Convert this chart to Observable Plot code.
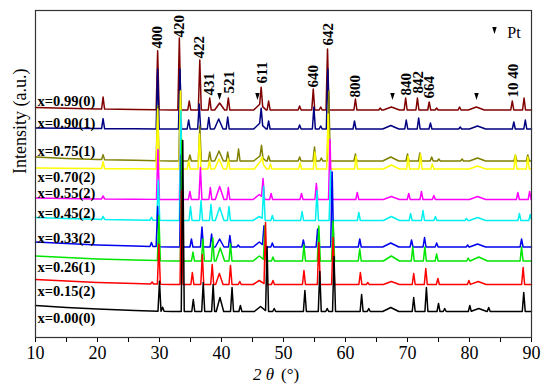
<!DOCTYPE html>
<html>
<head>
<meta charset="utf-8">
<script src="https://cdn.jsdelivr.net/npm/d3@7"></script>
<script src="https://cdn.jsdelivr.net/npm/@observablehq/plot@0.6"></script>
<style>
  html, body { margin: 0; padding: 0; background: #fff; }
  #chart { width: 550px; height: 389px; }
</style>
</head>
<body>
<div id="chart"></div>
<script>
// ---------- data ----------
const seriesLabels = ["x=0.00(0)", "x=0.15(2)", "x=0.26(1)", "x=0.33(2)", "x=0.45(2)",
                      "x=0.55(2)", "x=0.70(2)", "x=0.75(1)", "x=0.90(1)", "x=0.99(0)"];
const seriesColors = ["#000000", "#ff0000", "#00e600", "#0000ee", "#00f0f0",
                      "#ff00ff", "#ffff00", "#808000", "#000080", "#800000"];
// vertical stacking offset of each pattern (a.u.)
const seriesOffsets = [26, 53, 76.5, 90.5, 117, 138, 168.5, 176.5, 208.5, 227.5];
// background (amorphous hump at low angle): [2θ, intensity]
const bg000 = [[10, 6], [15, 4], [20, 2.5], [26, 1], [32, 0], [90, 0]];
const bg015 = [[10, 5], [15, 3.5], [20, 2], [26, 1], [32, 0], [90, 0]];
const bg026 = [[10, 5], [15, 3.5], [20, 2], [26, 1], [32, 0], [90, 0]];
const bg033 = [[10, 5], [15, 3.5], [20, 2], [26, 1], [32, 0], [90, 0]];
const bg045 = [[10, 3], [15, 2], [20, 1.2], [26, 0.5], [32, 0], [90, 0]];
const bg055 = [[10, 1.5], [15, 1], [20, 0.6], [26, 0.3], [32, 0], [90, 0]];
const bg070 = [[10, 1], [15, 0.7], [20, 0.4], [26, 0.2], [32, 0], [90, 0]];
const bg075 = [[10, 4], [15, 2.5], [20, 1.5], [26, 0.7], [32, 0], [90, 0]];
const bg090 = [[10, 1], [15, 0.7], [20, 0.4], [26, 0.2], [32, 0], [90, 0]];
const bg099 = [[10, 2.5], [15, 1.7], [20, 1], [26, 0.5], [32, 0], [90, 0]];
// reflections: [2θ, height, half-width at base (broad Pt humps only)]
const p000 = [[30.0, 30], [30.5, 4], [33.75, 171], [35.45, 12], [37.05, 29], [38.65, 27], [39.75, 14, 0.6],
  [41.7, 24], [43.05, 6], [46.3, 5, 1.0], [47.35, 65], [48.5, 3], [53.45, 21], [55.85, 40], [57.05, 3],
  [58.15, 55], [62.6, 17], [63.75, 3], [67.3, 4, 1.3], [71.0, 14], [73.05, 24], [75.0, 8], [76.0, 3],
  [80.05, 6], [81.5, 3, 1.3], [83.1, 4], [88.75, 19]];
const p015 = [[28.8, 2], [29.9, 40], [33.55, 94], [35.3, 12], [36.9, 30], [38.5, 20], [39.65, 11, 0.6],
  [41.45, 19], [42.95, 3], [46.1, 4, 1.0], [47.1, 62], [48.3, 4], [53.3, 14], [55.7, 42], [58.0, 47],
  [62.4, 12], [63.6, 2], [67.4, 3, 1.3], [71.0, 11], [72.95, 16], [74.9, 6], [79.9, 4], [81.4, 3, 1.3],
  [88.65, 17]];
const p026 = [[29.9, 45], [33.6, 121], [35.4, 9], [37.0, 22], [38.6, 23], [39.8, 13, 0.7], [41.45, 17],
  [46.1, 5, 1.0], [47.0, 35], [48.3, 4], [53.3, 16], [55.7, 35], [58.0, 40], [62.3, 12], [67.4, 5, 1.3],
  [70.85, 14], [72.8, 14], [74.7, 7], [79.8, 3], [81.5, 4, 1.4], [88.4, 14]];
const p033 = [[28.7, 4], [29.7, 40], [33.5, 92], [35.15, 8], [36.85, 20], [38.4, 13], [39.7, 8, 0.7],
  [41.35, 11.5], [42.7, 2], [46.1, 5, 1.0], [46.85, 20], [48.2, 4], [53.2, 7], [55.5, 18], [57.85, 75],
  [62.3, 8], [67.3, 4, 1.3], [70.65, 7], [72.75, 9.5], [74.7, 4], [79.7, 2], [81.3, 3, 1.3], [88.4, 8]];
const p045 = [[20.9, 3], [28.7, 3], [29.8, 40], [33.45, 110], [35.0, 14], [36.7, 20], [38.3, 16],
  [39.7, 13, 0.7], [41.2, 14], [46.1, 4, 1.0], [46.8, 33], [48.2, 5], [53.0, 9], [55.4, 30], [57.6, 50],
  [62.15, 8], [67.4, 4, 1.3], [70.5, 7], [72.5, 10], [74.5, 4], [79.5, 2], [81.3, 3, 1.3], [88.05, 7],
  [89.8, 6]];
const p055 = [[20.9, 3], [29.75, 50], [33.45, 80], [34.9, 8], [36.6, 32], [38.2, 12], [39.7, 13, 0.7],
  [41.1, 12], [46.1, 5, 1.0], [46.7, 19], [48.0, 6], [52.9, 6], [55.3, 16], [57.5, 60], [61.9, 7],
  [67.4, 3, 1.3], [70.2, 6], [72.25, 8], [74.25, 4], [81.3, 3, 1.3], [87.8, 7], [89.7, 8]];
const p070 = [[20.9, 7], [29.7, 60], [33.4, 78], [34.7, 8], [36.45, 35], [38.05, 8], [39.6, 10, 0.7],
  [41.1, 10], [46.3, 8, 1.0], [46.55, 6], [47.9, 5], [52.7, 6], [55.05, 17], [57.2, 55], [61.7, 13],
  [67.4, 4, 1.3], [70.1, 13], [72.1, 15], [74.0, 5], [81.3, 3, 1.3], [87.4, 14], [89.4, 12]];
const p075 = [[20.9, 5], [29.7, 55], [33.35, 70], [34.9, 6], [36.5, 35], [38.1, 9], [39.6, 10, 0.7],
  [41.0, 9], [42.75, 12], [46.2, 5, 1.0], [46.45, 12], [47.6, 5], [52.6, 4], [55.0, 14], [56.1, 3],
  [57.3, 70], [61.6, 7], [67.3, 4, 1.3], [70.0, 7], [72.0, 8], [73.9, 4], [75.05, 2], [78.8, 2],
  [81.3, 3, 1.3], [87.4, 6], [89.4, 6]];
const p090 = [[20.9, 10], [29.7, 60], [33.3, 60], [34.7, 9], [36.4, 25], [37.95, 11.5], [39.55, 10, 0.7],
  [41.0, 12], [46.2, 6, 1.0], [46.4, 16], [47.6, 8], [52.6, 4], [54.9, 22], [56.0, 3], [57.15, 60],
  [61.45, 8], [67.3, 3.5, 1.3], [69.8, 9], [71.8, 11], [73.7, 6], [78.5, 2], [81.3, 3, 1.3], [87.15, 7],
  [89.0, 9]];
const p099 = [[20.9, 12], [29.7, 59], [33.2, 72], [34.8, 9], [36.5, 50], [38.1, 12], [39.7, 7, 0.8],
  [41.1, 12], [46.2, 6, 1.0], [46.4, 18], [47.6, 9], [52.6, 4], [54.8, 21], [56.0, 3], [57.1, 61],
  [61.6, 11], [65.6, 2], [67.4, 3, 1.3], [69.7, 12], [71.6, 12], [73.5, 8], [74.7, 2], [78.4, 3],
  [81.1, 3, 1.3], [86.9, 9], [88.8, 12]];
const backgrounds = [bg000, bg015, bg026, bg033, bg045, bg055, bg070, bg075, bg090, bg099];
const peakLists = [p000, p015, p026, p033, p045, p055, p070, p075, p090, p099];

// Miller index annotations: [2θ, label]
const hklPos = [29.68, 33.23, 36.45, 38.06, 41.29, 46.6, 54.84, 57.26, 61.6, 69.84, 71.77, 73.55, 87.1];
const hklText = ["400", "420", "422", "431", "521", "611", "640", "642", "800", "840", "842", "664", "10 40"];
const hklLevel = [289, 300, 279, 242, 244, 254, 250, 292, 240, 242, 244, 239, 240];
// Pt reflections marked with ▼
const ptPos = [39.68, 45.8, 67.58, 81.13];
const xTicks = [10, 15, 20, 25, 30, 35, 40, 45, 50, 55, 60, 65, 70, 75, 80, 85, 90];

// ---------- layout ----------
const labelDy = [-7, -6.5, -6.5, 9, 7, 6.5, -8, 9.5, 6, 8.5];
const ptLevel = 241;
const SHARP_W = 0.24;
const serif = "'Liberation Serif', 'Times New Roman', serif";

// build each pattern polyline from its reflections
function profile(i) {
  const bg = backgrounds[i], peaks = peakLists[i];
  const bgScale = d3.scaleLinear().domain(bg.map(d => d[0])).range(bg.map(d => d[1])).clamp(true);
  const xs = new Set([10, 90]);
  bg.forEach(([t]) => xs.add(t));
  peaks.forEach(([t, h, w = SHARP_W]) => { xs.add(t - w); xs.add(t); xs.add(t + w); });
  return [...xs].filter(t => t >= 10 && t <= 90).sort((a, b) => a - b).map(t => ({
    theta: t,
    intensity: seriesOffsets[i] + bgScale(t) +
      d3.sum(peaks, ([p, h, w = SHARP_W]) => Math.max(0, h * (1 - Math.abs(t - p) / w))),
    series: seriesLabels[i],
    color: seriesColors[i]
  }));
}
// draw top pattern first so lower patterns' strong peaks sit on top
const order = d3.range(seriesLabels.length).reverse();
const lineData = order.flatMap(profile);

const labelData = seriesLabels.map((s, i) => ({text: s, y: seriesOffsets[i] + labelDy[i]}));
const hklData = hklText.map((t, i) => ({text: t, x: hklPos[i], y: hklLevel[i]}));

const downTri = {
  draw(ctx, size) {
    const r = Math.sqrt(size / Math.PI);
    ctx.moveTo(-r * 0.62, -r);
    ctx.lineTo(r * 0.62, -r);
    ctx.lineTo(0, r);
    ctx.closePath();
  }
};

const chart = Plot.plot({
  width: 550,
  height: 389,
  marginLeft: 35,
  marginRight: 19,
  marginTop: 10,
  marginBottom: 52,
  style: {fontFamily: serif, fontSize: "18px", color: "#000", background: "#fff"},
  x: {domain: [10, 90], ticks: xTicks, tickFormat: d => d % 10 === 0 ? d : "", tickSize: 5, tickPadding: 4, label: null},
  y: {domain: [0, 327], axis: null},
  color: {type: "identity"},
  marks: [
    Plot.line(lineData, {x: "theta", y: "intensity", z: "series", stroke: "color", strokeWidth: 1.5, curve: "linear"}),
    Plot.frame({stroke: "#333", strokeWidth: 1.2}),
    Plot.text(labelData, {x: 10, y: "y", text: "text", dx: 2, textAnchor: "start", fontWeight: "bold", fontSize: 14.5, fontFamily: serif, fill: "#000"}),
    Plot.text(hklData, {x: "x", y: "y", text: "text", rotate: -90, textAnchor: "start", fontWeight: "bold", fontSize: 15, fontFamily: serif, fill: "#000"}),
    Plot.dot(ptPos, {x: d => d, y: ptLevel, symbol: downTri, r: 3.6, fill: "#000", stroke: "none"}),
    Plot.dot([84.03], {x: d => d, y: 307, symbol: downTri, r: 3.6, fill: "#000", stroke: "none"}),
    Plot.text(["Pt"], {x: 86.1, y: 305, text: d => d, textAnchor: "start", fontSize: 16, fontFamily: serif, fill: "#000"}),
    Plot.text(["Intensity (a.u.)"], {frameAnchor: "left", dx: -15, rotate: -90, text: d => d, fontSize: 18, fontFamily: serif, fill: "#000"}),
    Plot.text(["2 θ"], {x: 48.5, frameAnchor: "bottom", dy: 42, text: d => d, textAnchor: "end", fontSize: 17, fontStyle: "italic", fontFamily: serif, fill: "#000"}),
    Plot.text(["(°)"], {x: 49.6, frameAnchor: "bottom", dy: 42, text: d => d, textAnchor: "start", fontSize: 17, fontFamily: serif, fill: "#000"})
  ]
});
document.getElementById("chart").appendChild(chart);
</script>
</body>
</html>
